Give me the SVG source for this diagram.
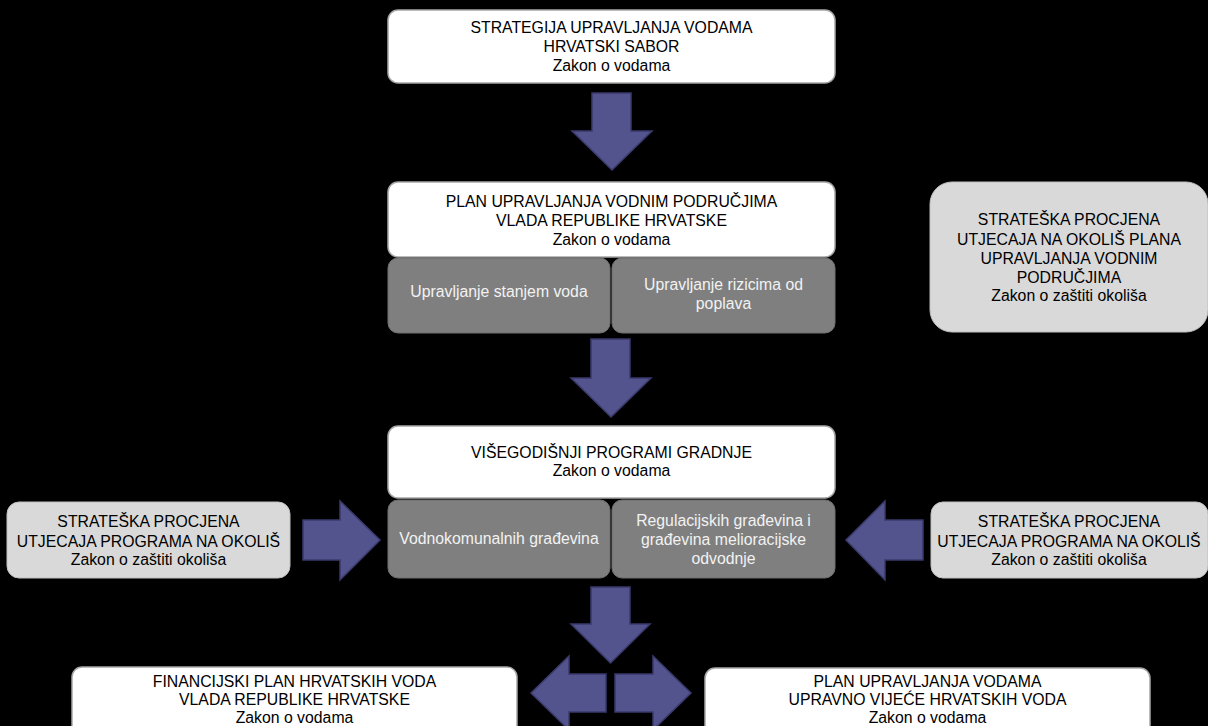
<svg xmlns="http://www.w3.org/2000/svg" width="1208" height="726" viewBox="0 0 1208 726">
<style>
.bg{fill:#000}
.wbox{fill:#fff;stroke:#a6a6a6;stroke-width:1.5}
.gbox{fill:#7f7f7f;stroke:#6f6f6f;stroke-width:1}
.lbox{fill:#d9d9d9;stroke:#bfbfbf;stroke-width:1}
.arrow{fill:#53538d;stroke:#3a3a6c;stroke-width:1.5;stroke-linejoin:miter}
text{font-family:"Liberation Sans",Arial,sans-serif;font-size:15.8px;text-anchor:middle}
.dk{fill:#000}
.lt{fill:#f2f2f2}
</style>
<rect class="bg" x="0" y="0" width="1208" height="726"/>
<g id="connectors">
<polygon class="arrow" points="592,93 631,93 631,131 652,131 612,170 572,131 592,131"/>
<polygon class="arrow" points="591,339 630,339 630,378 651,378 611,417 571,378 591,378"/>
<polygon class="arrow" points="303,520 340,520 340,501 380,540 340,580 340,560 303,560"/>
<polygon class="arrow" points="923,520 885,520 885,501 846,540 885,580 885,560 923,560"/>
<polygon class="arrow" points="591,587 630,587 630,624 650,624 610.5,663 571,624 591,624"/>
<polygon class="arrow" points="606,674 569,674 569,656 531,693 569,730 569,712 606,712"/>
<polygon class="arrow" points="615,674 653,674 653,656 691,693 653,730 653,712 615,712"/>
</g>
<g id="strategija">
<rect class="wbox" x="388" y="10" width="447" height="73" rx="10"/>
<text class="dk" x="611.5" y="33">STRATEGIJA UPRAVLJANJA VODAMA</text>
<text class="dk" x="611.5" y="52">HRVATSKI SABOR</text>
<text class="dk" x="611.5" y="70.5">Zakon o vodama</text>
</g>
<g id="plan-podrucja">
<rect class="wbox" x="388" y="182" width="447" height="75" rx="10"/>
<text class="dk" x="611.5" y="207">PLAN UPRAVLJANJA VODNIM PODRUČJIMA</text>
<text class="dk" x="611.5" y="226">VLADA REPUBLIKE HRVATSKE</text>
<text class="dk" x="611.5" y="244.5">Zakon o vodama</text>
</g>
<g id="stanje-voda">
<rect class="gbox" x="388" y="258" width="222" height="75" rx="10"/>
<text class="lt" x="499" y="297">Upravljanje stanjem voda</text>
</g>
<g id="rizici-poplava">
<rect class="gbox" x="612" y="258" width="223" height="75" rx="10"/>
<text class="lt" x="723.5" y="290">Upravljanje rizicima od</text>
<text class="lt" x="723.5" y="309">poplava</text>
</g>
<g id="spuo-plana">
<rect class="lbox" x="930" y="182" width="278" height="150" rx="22"/>
<text class="dk" x="1069" y="225">STRATEŠKA PROCJENA</text>
<text class="dk" x="1069" y="244.5">UTJECAJA NA OKOLIŠ PLANA</text>
<text class="dk" x="1069" y="264">UPRAVLJANJA VODNIM</text>
<text class="dk" x="1069" y="283">PODRUČJIMA</text>
<text class="dk" x="1069" y="301">Zakon o zaštiti okoliša</text>
</g>
<g id="visegodisnji">
<rect class="wbox" x="388" y="426" width="447" height="72" rx="10"/>
<text class="dk" x="611.5" y="457.5">VIŠEGODIŠNJI PROGRAMI GRADNJE</text>
<text class="dk" x="611.5" y="476">Zakon o vodama</text>
</g>
<g id="vodnokomunalne">
<rect class="gbox" x="388" y="500" width="222" height="78" rx="10"/>
<text class="lt" x="499" y="544">Vodnokomunalnih građevina</text>
</g>
<g id="regulacijske">
<rect class="gbox" x="612" y="500" width="223" height="78" rx="10"/>
<text class="lt" x="723.5" y="526">Regulacijskih građevina i</text>
<text class="lt" x="723.5" y="545">građevina melioracijske</text>
<text class="lt" x="723.5" y="564">odvodnje</text>
</g>
<g id="spuo-lijevo">
<rect class="lbox" x="7" y="502" width="283" height="76" rx="12"/>
<text class="dk" x="148.5" y="527">STRATEŠKA PROCJENA</text>
<text class="dk" x="148.5" y="546.5">UTJECAJA PROGRAMA NA OKOLIŠ</text>
<text class="dk" x="148.5" y="565">Zakon o zaštiti okoliša</text>
</g>
<g id="spuo-desno">
<rect class="lbox" x="931" y="502" width="277" height="76" rx="12"/>
<text class="dk" x="1069" y="527">STRATEŠKA PROCJENA</text>
<text class="dk" x="1069" y="546.5">UTJECAJA PROGRAMA NA OKOLIŠ</text>
<text class="dk" x="1069" y="565">Zakon o zaštiti okoliša</text>
</g>
<g id="financijski-plan">
<rect class="wbox" x="72" y="667" width="445" height="80" rx="10"/>
<text class="dk" x="294.5" y="687">FINANCIJSKI PLAN HRVATSKIH VODA</text>
<text class="dk" x="294.5" y="705">VLADA REPUBLIKE HRVATSKE</text>
<text class="dk" x="294.5" y="722.5">Zakon o vodama</text>
</g>
<g id="plan-upravljanja-vodama">
<rect class="wbox" x="705" y="668" width="445" height="80" rx="10"/>
<text class="dk" x="927.5" y="687">PLAN UPRAVLJANJA VODAMA</text>
<text class="dk" x="927.5" y="705">UPRAVNO VIJEĆE HRVATSKIH VODA</text>
<text class="dk" x="927.5" y="722.5">Zakon o vodama</text>
</g>
</svg>
